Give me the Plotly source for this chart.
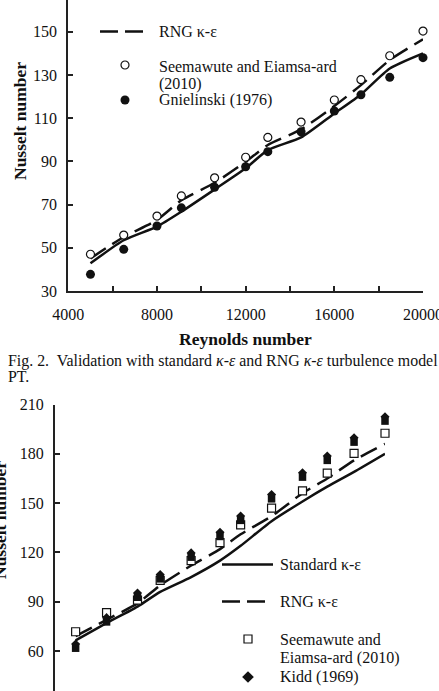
import plotly.graph_objects as go

# ---------------- data ----------------
RE = [5000, 6500, 8000, 9100, 10600, 12000, 13000, 14500, 16000, 17200, 18500, 20000]

# Fig. 2 (upper chart)
TOP_STANDARD = [42.8, 53.5, 59.8, 66.7, 77.0, 86.8, 95.2, 101.1, 112.2, 121.0, 133.0, 140.0]
TOP_RNG = [45.1, 55.0, 62.9, 72.0, 80.1, 89.8, 97.6, 104.8, 115.6, 125.3, 136.9, 146.5]
TOP_SEEMAWUTE = [47.0, 55.9, 64.7, 74.0, 82.4, 91.9, 101.1, 108.2, 118.4, 127.8, 138.9, 150.3]
TOP_GNIELINSKI = [37.7, 49.3, 60.1, 68.5, 78.0, 87.5, 94.5, 103.7, 113.3, 120.8, 128.9, 138.0]

# lower chart
BOT_STANDARD = [66.5, 77.0, 87.0, 96.0, 105.0, 115.0, 124.0, 139.0, 151.0, 160.0, 169.0, 180.0]
BOT_RNG = [69.0, 79.0, 89.0, 100.0, 112.0, 122.0, 131.0, 142.0, 156.0, 165.0, 176.0, 186.0]
BOT_SEEMAWUTE = [71.7, 83.3, 91.0, 103.0, 115.0, 126.0, 136.7, 146.9, 157.4, 168.2, 180.3, 192.5]
BOT_KIDD = [63.0, 79.0, 94.0, 105.2, 118.4, 131.0, 140.8, 153.9, 167.1, 177.3, 188.4, 201.2]

TOP_X_TICKS = [4000, 6000, 8000, 10000, 12000, 14000, 16000, 18000, 20000]
TOP_X_LABELS = ["4000", "", "8000", "", "12000", "", "16000", "", "20000"]
TOP_Y_TICKS = [30, 50, 70, 90, 110, 130, 150]
BOT_Y_TICKS = [60, 90, 120, 150, 180, 210]

LEG_STANDARD = "Standard κ-ε"
LEG_RNG = "RNG κ-ε"
LEG_SEEM_1 = "Seemawute and Eiamsa-ard"
LEG_SEEM_2 = "(2010)"
LEG_GNIEL = "Gnielinski (1976)"
LEG_SEEM_B1 = "Seemawute and"
LEG_SEEM_B2 = "Eiamsa-ard (2010)"
LEG_KIDD = "Kidd (1969)"
CAPTION_1 = "Fig. 2.  Validation with standard <i>κ-ε</i> and RNG <i>κ-ε</i> turbulence model"
CAPTION_2 = "PT."
X_TITLE = "Reynolds number"
Y_TITLE = "Nusselt number"

# ---------------- style ----------------
W, H = 439, 691
FONT = "Liberation Serif"
INK = "#111111"
AX = "#222222"
DASH = "18px,8px"
LW = 2.5
KIDD_SPLIT = 1.3  # vertical split of Kidd glyph (diamond over square)

fig = go.Figure()

# upper chart
fig.add_trace(go.Scatter(x=RE, y=TOP_STANDARD, mode="lines", line=dict(color=INK, width=LW, shape="spline", smoothing=0.6), xaxis="x", yaxis="y"))
fig.add_trace(go.Scatter(x=RE, y=TOP_RNG, mode="lines", line=dict(color=INK, width=LW, dash=DASH, shape="spline", smoothing=0.6), xaxis="x", yaxis="y"))
fig.add_trace(go.Scatter(x=RE, y=TOP_SEEMAWUTE, mode="markers", marker=dict(symbol="circle", size=8, color="white", line=dict(color=INK, width=1.2)), xaxis="x", yaxis="y", cliponaxis=False))
fig.add_trace(go.Scatter(x=RE, y=TOP_GNIELINSKI, mode="markers", marker=dict(symbol="circle", size=9, color=INK, line=dict(width=0)), xaxis="x", yaxis="y", cliponaxis=False))

# lower chart
fig.add_trace(go.Scatter(x=RE, y=BOT_STANDARD, mode="lines", line=dict(color=INK, width=LW, shape="spline", smoothing=0.6), xaxis="x2", yaxis="y2"))
fig.add_trace(go.Scatter(x=RE, y=BOT_RNG, mode="lines", line=dict(color=INK, width=LW, dash=DASH, shape="spline", smoothing=0.6), xaxis="x2", yaxis="y2"))
fig.add_trace(go.Scatter(x=RE, y=BOT_SEEMAWUTE, mode="markers", marker=dict(symbol="square", size=8, color="white", line=dict(color=INK, width=1.2)), xaxis="x2", yaxis="y2", cliponaxis=False))
fig.add_trace(go.Scatter(x=RE, y=[v - KIDD_SPLIT for v in BOT_KIDD], mode="markers", marker=dict(symbol="square", size=7.5, color=INK, line=dict(width=0)), xaxis="x2", yaxis="y2", cliponaxis=False))
fig.add_trace(go.Scatter(x=RE, y=[v + KIDD_SPLIT for v in BOT_KIDD], mode="markers", marker=dict(symbol="diamond", size=7, color=INK, line=dict(width=0)), xaxis="x2", yaxis="y2", cliponaxis=False))

# legend samples on a pixel-coordinate overlay axis
def seg(x0, x1, y, dash=None):
    fig.add_trace(go.Scatter(x=[x0, x1], y=[y, y], mode="lines", line=dict(color=INK, width=LW, dash=dash), xaxis="x3", yaxis="y3"))

seg(100, 143, -3)
seg(100, 143, 31.5, "18px,7px")
fig.add_trace(go.Scatter(x=[125], y=[65], mode="markers", marker=dict(symbol="circle", size=8, color="white", line=dict(color=INK, width=1.2)), xaxis="x3", yaxis="y3"))
fig.add_trace(go.Scatter(x=[125], y=[100], mode="markers", marker=dict(symbol="circle", size=9, color=INK), xaxis="x3", yaxis="y3"))
seg(222, 273, 564.5)
seg(222, 268, 601.5, "18px,7px")
fig.add_trace(go.Scatter(x=[248], y=[639], mode="markers", marker=dict(symbol="square", size=8, color="white", line=dict(color=INK, width=1.2)), xaxis="x3", yaxis="y3"))
fig.add_trace(go.Scatter(x=[248], y=[677], mode="markers", marker=dict(symbol="diamond", size=9, color=INK), xaxis="x3", yaxis="y3"))

def txt(x, y, s, size=16, bold=False, anchor="left", angle=0):
    fig.add_annotation(x=x, y=y, xref="x3", yref="y3", text=(f"<b>{s}</b>" if bold else s), showarrow=False,
                       xanchor=anchor, yanchor="middle", textangle=angle,
                       font=dict(family=FONT, size=size, color=INK))

txt(157, -2, LEG_STANDARD)
txt(157, 31.5, LEG_RNG)
txt(157, 66, LEG_SEEM_1)
txt(157, 84, LEG_SEEM_2)
txt(157, 100, LEG_GNIEL)
txt(278, 564.5, LEG_STANDARD)
txt(278, 601.5, LEG_RNG)
txt(278, 639, LEG_SEEM_B1)
txt(278, 658, LEG_SEEM_B2)
txt(278, 677, LEG_KIDD)
txt(245, 339, X_TITLE, size=17.5, bold=True, anchor="center")
txt(20, 121, Y_TITLE, size=17.5, bold=True, anchor="center", angle=-90)
txt(0, 520, Y_TITLE, size=17.5, bold=True, anchor="center", angle=-90)
txt(6, 361, CAPTION_1, size=15.9)
txt(6, 376, CAPTION_2, size=15.9)

axis_common = dict(showline=True, linecolor=AX, linewidth=2, ticks="inside", ticklen=5, tickwidth=1.5,
                   tickcolor=AX, showgrid=False, zeroline=False, automargin=False,
                   ticklabeloverflow="allow",
                   tickfont=dict(family=FONT, size=16, color=INK))

fig.update_layout(
    template="none",
    width=W, height=H, margin=dict(l=0, r=0, t=0, b=0, pad=0, autoexpand=False),
    paper_bgcolor="white", plot_bgcolor="rgba(0,0,0,0)", showlegend=False,
    xaxis=dict(domain=[68.3 / W, 423 / W], range=[4000, 20000], anchor="y",
               tickvals=TOP_X_TICKS, ticktext=TOP_X_LABELS, ticklabelstandoff=8, **axis_common),
    yaxis=dict(domain=[1 - 291 / H, 1], range=[30, 164.7], anchor="x",
               tickvals=TOP_Y_TICKS, ticklabelstandoff=6, **axis_common),
    xaxis2=dict(domain=[55 / W, 385 / W], range=[4000, 20000], anchor="y2", visible=False),
    yaxis2=dict(domain=[0, 1 - 404.5 / H], range=[35.66, 210], anchor="x2",
                tickvals=BOT_Y_TICKS, ticklabelstandoff=6, **axis_common),
    xaxis3=dict(domain=[0, 1], range=[0, W], anchor="y3", visible=False, fixedrange=True),
    yaxis3=dict(domain=[0, 1], range=[H, 0], anchor="x3", visible=False, fixedrange=True),
)

fig.write_html("out.html")
